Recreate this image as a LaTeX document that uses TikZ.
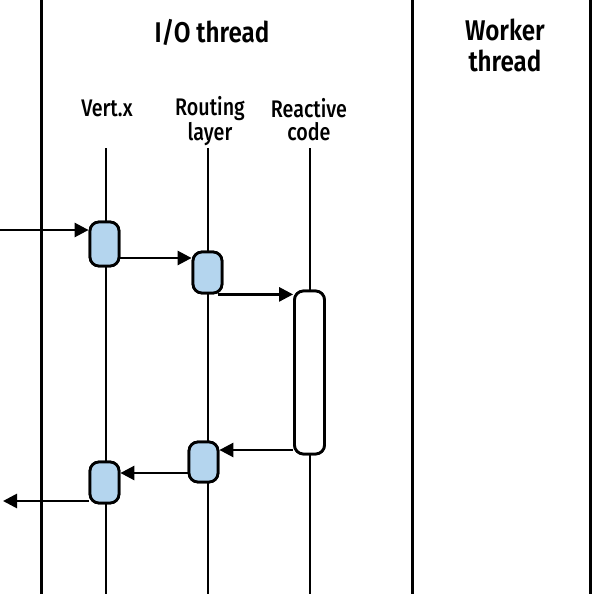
\documentclass[tikz,border=0pt]{standalone}
\usepackage{graphicx}
\usepackage{fontspec}
\setmainfont{Fira Sans SemiBold}
\newfontfamily\labfont{Fira Sans Medium}
\usetikzlibrary{arrows.meta}
\definecolor{boxblue}{HTML}{B4D5EE}
\newcommand{\tcnd}[1]{\scalebox{0.85}[1]{#1}}
\newcommand{\lcnd}[1]{\scalebox{0.82}[1]{#1}}
\begin{document}
\begin{tikzpicture}[x=1pt,y=-1pt,
  frame/.style={line width=3pt},
  life/.style={line width=1.7pt},
  act/.style={draw,line width=2.8pt,rounded corners=9pt,minimum width=29pt,inner sep=0pt},
  bluebox/.style={act,fill=boxblue},
  arr/.style={line width=2.7pt,-{Triangle[length=14pt,width=14pt]}},
  title/.style={font=\fontsize{28.5}{32}\selectfont,align=center,anchor=base,inner sep=0pt},
  lab/.style={font=\labfont\fontsize{24}{23}\selectfont,align=center,anchor=base,inner sep=0pt}]
\useasboundingbox (0,0) rectangle (600,594);
% frame lines
\coordinate (f1t) at (41,0); \coordinate (f1b) at (41,594);
\coordinate (f2t) at (412,0); \coordinate (f2b) at (412,594);
\coordinate (f3t) at (590,0); \coordinate (f3b) at (590,594);
\draw[frame] (f1t) -- (f1b);
\draw[frame] (f2t) -- (f2b);
\draw[frame] (f3t) -- (f3b);
% titles (base anchor = baseline of the last line)
\node[title] (io) at (212,43) {\tcnd{I/O thread}};
\node[title] (wk) at (505,72) {\tcnd{Worker}\\\tcnd{thread}};
\node[lab] (lv) at (107,117) {\lcnd{Vert.x}};
\node[lab] (lr) at (210,140) {\lcnd{Routing}\\\lcnd{layer}};
\node[lab] (lc) at (309,140) {\lcnd{Reactive}\\\lcnd{code}};
% lifelines
\coordinate (lvt) at (106,148); \coordinate (lvb) at (106,594);
\coordinate (lrt) at (208,148); \coordinate (lrb) at (208,594);
\coordinate (lct) at (310,148); \coordinate (lcb) at (310,594);
\draw[life] (lvt) -- (lvb);
\draw[life] (lrt) -- (lrb);
\draw[life] (lct) -- (lcb);
% activation boxes (positions)
\path (104.5,244) coordinate (v1c) (207.5,272.5) coordinate (r1c)
      (309.5,372.5) coordinate (rcc) (203.5,462) coordinate (r2c)
      (104.5,482.5) coordinate (v2c);
\path node[bluebox,minimum height=44pt] (v1) at (v1c) {}
      node[bluebox,minimum height=41pt] (r1) at (r1c) {}
      node[act,fill=white,minimum height=163pt,minimum width=30pt] (rc) at (rcc) {}
      node[bluebox,minimum height=40pt] (r2) at (r2c) {}
      node[bluebox,minimum height=41pt] (v2) at (v2c) {};
% arrow anchor points
\coordinate (in) at (0,230);
\coordinate (out) at (3,501);
\path (v1.east) ++(0,14) coordinate (a2);
\path (r1.south east) ++(-5,0) coordinate (a3);
\path (rc.west) ++(0,77.5) coordinate (a4);
\path (r2.west) ++(0,11) coordinate (a5);
% arrows
\draw[arr] (in) -- (in -| v1.west);
\draw[arr] (a2) -- (a2 -| r1.west);
\draw[arr] (a3) -- (a3 -| rc.west);
\draw[arr] (a4) -- (a4 -| r2.east);
\draw[arr] (a5) -- (a5 -| v2.east);
\draw[arr] (v2.west |- out) -- (out);
% boxes on top of the arrows
\node[bluebox,minimum height=44pt] at (v1c) {};
\node[bluebox,minimum height=41pt] at (r1c) {};
\node[act,fill=white,minimum height=163pt,minimum width=30pt] at (rcc) {};
\node[bluebox,minimum height=40pt] at (r2c) {};
\node[bluebox,minimum height=41pt] at (v2c) {};
\end{tikzpicture}
\end{document}
